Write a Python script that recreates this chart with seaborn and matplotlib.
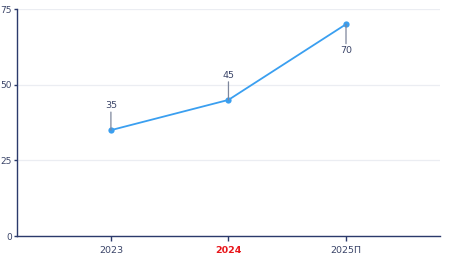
import matplotlib
matplotlib.use("Agg")
import matplotlib.pyplot as plt
import seaborn as sns
import pandas as pd

categories = ["2023", "2024", "2025П"]
values = [35, 45, 70]
label_above = [True, True, False]

sns.set_theme(style="white")
plt.rcParams['font.family'] = ['DejaVu Sans']

df = pd.DataFrame({"x": list(range(len(categories))), "y": values})

fig = plt.figure(figsize=(4.56, 2.6), dpi=100)
ax = fig.add_axes([0.037, 0.092, 0.928, 0.873])

axis_col = "#2b3a6b"
line_col = "#3a9ff0"

sns.lineplot(data=df, x="x", y="y", ax=ax, color=line_col, linewidth=1.3,
             marker="o", markersize=4.5, markeredgewidth=0, zorder=3)

for i, (v, up) in enumerate(zip(values, label_above)):
    off = 13 if up else -14
    ax.annotate("", xy=(i, v), xytext=(0, off), textcoords="offset points",
                arrowprops=dict(arrowstyle="-", color="#7d869c", lw=0.9, shrinkA=0, shrinkB=0))
    ax.annotate(str(v), xy=(i, v), xytext=(0, off + (1.5 if up else -1.5)),
                textcoords="offset points", ha="center",
                va="bottom" if up else "top", fontsize=6.8, color="#3a4468")

ax.set_xlim(-0.8, 2.8)
ax.set_ylim(0, 75)
ax.set_yticks([0, 25, 50, 75])
ax.set_xticks(range(len(categories)))
ax.set_xticklabels(categories)
ax.set_xlabel("")
ax.set_ylabel("")
ax.grid(axis="y", color="#ebedf2", linewidth=0.9)
ax.set_axisbelow(True)
for s in ["top", "right"]:
    ax.spines[s].set_visible(False)
for s in ["left", "bottom"]:
    ax.spines[s].set_color(axis_col)
    ax.spines[s].set_linewidth(1.0)
ax.tick_params(axis="y", length=2.5, width=1, color=axis_col, labelsize=6.5,
               labelcolor="#3a4468", pad=1, left=True)
ax.tick_params(axis="x", length=3.5, width=1, color=axis_col, labelsize=6.8,
               labelcolor="#3a4468", pad=4, bottom=True)
lbl = ax.get_xticklabels()[1]
lbl.set_color("#e8161b")
lbl.set_fontweight("bold")

fig.savefig("out.png", dpi=100)
